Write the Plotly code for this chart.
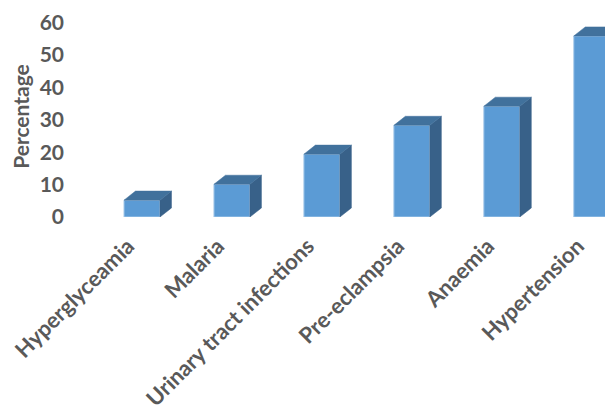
import plotly.graph_objects as go

categories = ["Hyperglyceamia", "Malaria", "Urinary tract infections",
              "Pre-eclampsia", "Anaemia", "Hypertension"]
values = [5.2, 10.1, 19.4, 28.3, 34.2, 55.9]
y_ticks = [0, 10, 20, 30, 40, 50, 60]

FRONT = "#5B9BD5"
TOP = "#41719C"
SIDE = "#386189"
EDGE = "#A9CBEA"
TEXT = "#595959"
FONT = "Lato"

bar_w = 0.40
depth_x = 0.128   # depth offset in x units
depth_y = 2.8     # depth offset in y units

xs = list(range(len(categories)))

fig = go.Figure()

# side faces and top faces (3D look) computed from data
for xi, v in zip(xs, values):
    r = xi + bar_w / 2
    l = xi - bar_w / 2
    fig.add_trace(go.Scatter(
        x=[r, r + depth_x, r + depth_x, r, r],
        y=[0, depth_y, v + depth_y, v, 0],
        fill="toself", fillcolor=SIDE, mode="lines",
        line=dict(color=SIDE, width=0.5), hoverinfo="skip", showlegend=False))
    fig.add_trace(go.Scatter(
        x=[l, l + depth_x, r + depth_x, r, l],
        y=[v, v + depth_y, v + depth_y, v, v],
        fill="toself", fillcolor=TOP, mode="lines",
        line=dict(color=TOP, width=0.5), hoverinfo="skip", showlegend=False))

fig.add_trace(go.Bar(
    x=xs, y=values, width=bar_w,
    marker=dict(color=FRONT, line=dict(color=EDGE, width=1)),
    showlegend=False))

fig.update_layout(
    width=613, height=412,
    margin=dict(l=89, r=0, t=8, b=203),
    paper_bgcolor="white", plot_bgcolor="white",
    font=dict(family=FONT, color=TEXT, size=19, weight="bold"),
    xaxis=dict(
        range=[-0.5, 5.325], automargin=False, ticklabeloverflow="allow",
        tickmode="array", tickvals=xs, ticktext=categories,
        tickangle=-45, showgrid=False, zeroline=False, showline=False,
        ticks="", ticklabelstandoff=11, ticklabelshift=-14,
        tickfont=dict(family=FONT, size=22, color=TEXT, weight="bold")),
    yaxis=dict(
        range=[0, 62.07], automargin=False,
        tickmode="array", tickvals=y_ticks,
        showgrid=False, zeroline=False, showline=False,
        ticks="", ticklabelstandoff=32,
        tickfont=dict(family=FONT, size=21, color=TEXT, weight="bold"),
        title=dict(text="Percentage", standoff=13,
                   font=dict(family=FONT, size=21, color=TEXT, weight="bold"))),
)

fig.write_html("out.html")
